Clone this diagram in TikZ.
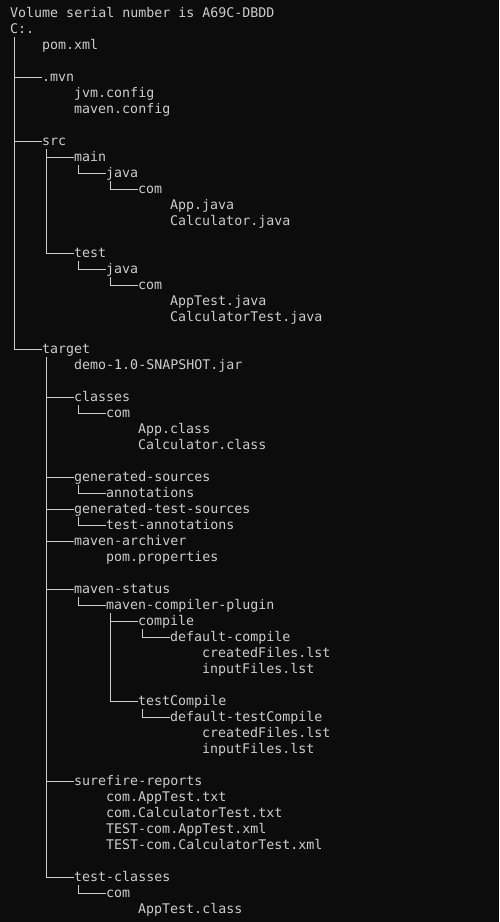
\documentclass[tikz,border=0pt]{standalone}
\usepackage{fontspec}
\setmonofont{DejaVu Sans Mono}
\usepackage{tikz}

\definecolor{termbg}{HTML}{0C0C0C}
\definecolor{termfg}{HTML}{CCCCCC}

\tikzset{
  entry/.style={anchor=base west, inner sep=0pt, text height=12pt, text depth=4pt,
    text=termfg, font=\ttfamily\fontsize{13.3}{16}\selectfont},
  branch/.style={draw=termfg, line width=1pt}
}

\begin{document}
\begin{tikzpicture}[x=1pt,y=-1pt]
\fill[termbg] (0,0) rectangle (499,922);
\node[entry] (header) at (10,17) {Volume serial number is A69C-DBDD};
\node[entry] (root) at (10,33) {C:.};
\node[entry] (pom) at (42,49) {pom.xml};
\node[entry] (mvn) at (42,81) {.mvn};
\node[entry] (jvmcfg) at (74,97) {jvm.config};
\node[entry] (mvncfg) at (74,113) {maven.config};
\node[entry] (src) at (42,145) {src};
\node[entry] (main) at (74,161) {main};
\node[entry] (mjava) at (106,177) {java};
\node[entry] (mcom) at (138,193) {com};
\node[entry] (appjava) at (170,209) {App.java};
\node[entry] (calcjava) at (170,225) {Calculator.java};
\node[entry] (test) at (74,257) {test};
\node[entry] (tjava) at (106,273) {java};
\node[entry] (tcom) at (138,289) {com};
\node[entry] (apptestjava) at (170,305) {AppTest.java};
\node[entry] (calctestjava) at (170,321) {CalculatorTest.java};
\node[entry] (target) at (42,353) {target};
\node[entry] (jar) at (74,369) {demo-1.0-SNAPSHOT.jar};
\node[entry] (classes) at (74,401) {classes};
\node[entry] (clscom) at (106,417) {com};
\node[entry] (appclass) at (138,433) {App.class};
\node[entry] (calcclass) at (138,449) {Calculator.class};
\node[entry] (gensrc) at (74,481) {generated-sources};
\node[entry] (annot) at (106,497) {annotations};
\node[entry] (gentest) at (74,513) {generated-test-sources};
\node[entry] (testannot) at (106,529) {test-annotations};
\node[entry] (archiver) at (74,545) {maven-archiver};
\node[entry] (pomprops) at (106,561) {pom.properties};
\node[entry] (status) at (74,593) {maven-status};
\node[entry] (plugin) at (106,609) {maven-compiler-plugin};
\node[entry] (compile) at (138,625) {compile};
\node[entry] (defcompile) at (170,641) {default-compile};
\node[entry] (created1) at (202,657) {createdFiles.lst};
\node[entry] (input1) at (202,673) {inputFiles.lst};
\node[entry] (testcompile) at (138,705) {testCompile};
\node[entry] (deftestcompile) at (170,721) {default-testCompile};
\node[entry] (created2) at (202,737) {createdFiles.lst};
\node[entry] (input2) at (202,753) {inputFiles.lst};
\node[entry] (surefire) at (74,785) {surefire-reports};
\node[entry] (rep1) at (106,801) {com.AppTest.txt};
\node[entry] (rep2) at (106,817) {com.CalculatorTest.txt};
\node[entry] (rep3) at (106,833) {TEST-com.AppTest.xml};
\node[entry] (rep4) at (106,849) {TEST-com.CalculatorTest.xml};
\node[entry] (testclasses) at (74,881) {test-classes};
\node[entry] (tclscom) at (106,897) {com};
\node[entry] (apptestclass) at (138,913) {AppTest.class};
% tree lines
\draw[branch] ([xshift=4pt]root.south west) |- (mvn.west);
\draw[branch] ([xshift=4pt]root.south west) |- (src.west);
\draw[branch] ([xshift=4pt]root.south west) |- (target.west);
\draw[branch] ([xshift=4pt]src.south west) |- (main.west);
\draw[branch] ([xshift=4pt]src.south west) |- (test.west);
\draw[branch] ([xshift=4pt]main.south west) |- (mjava.west);
\draw[branch] ([xshift=4pt]mjava.south west) |- (mcom.west);
\draw[branch] ([xshift=4pt]test.south west) |- (tjava.west);
\draw[branch] ([xshift=4pt]tjava.south west) |- (tcom.west);
\draw[branch] ([xshift=4pt]target.south west) |- (classes.west);
\draw[branch] ([xshift=4pt]target.south west) |- (gensrc.west);
\draw[branch] ([xshift=4pt]target.south west) |- (gentest.west);
\draw[branch] ([xshift=4pt]target.south west) |- (archiver.west);
\draw[branch] ([xshift=4pt]target.south west) |- (status.west);
\draw[branch] ([xshift=4pt]target.south west) |- (surefire.west);
\draw[branch] ([xshift=4pt]target.south west) |- (testclasses.west);
\draw[branch] ([xshift=4pt]classes.south west) |- (clscom.west);
\draw[branch] ([xshift=4pt]gensrc.south west) |- (annot.west);
\draw[branch] ([xshift=4pt]gentest.south west) |- (testannot.west);
\draw[branch] ([xshift=4pt]status.south west) |- (plugin.west);
\draw[branch] ([xshift=4pt]plugin.south west) |- (compile.west);
\draw[branch] ([xshift=4pt]plugin.south west) |- (testcompile.west);
\draw[branch] ([xshift=4pt]compile.south west) |- (defcompile.west);
\draw[branch] ([xshift=4pt]testcompile.south west) |- (deftestcompile.west);
\draw[branch] ([xshift=4pt]testclasses.south west) |- (tclscom.west);
\end{tikzpicture}
\end{document}
